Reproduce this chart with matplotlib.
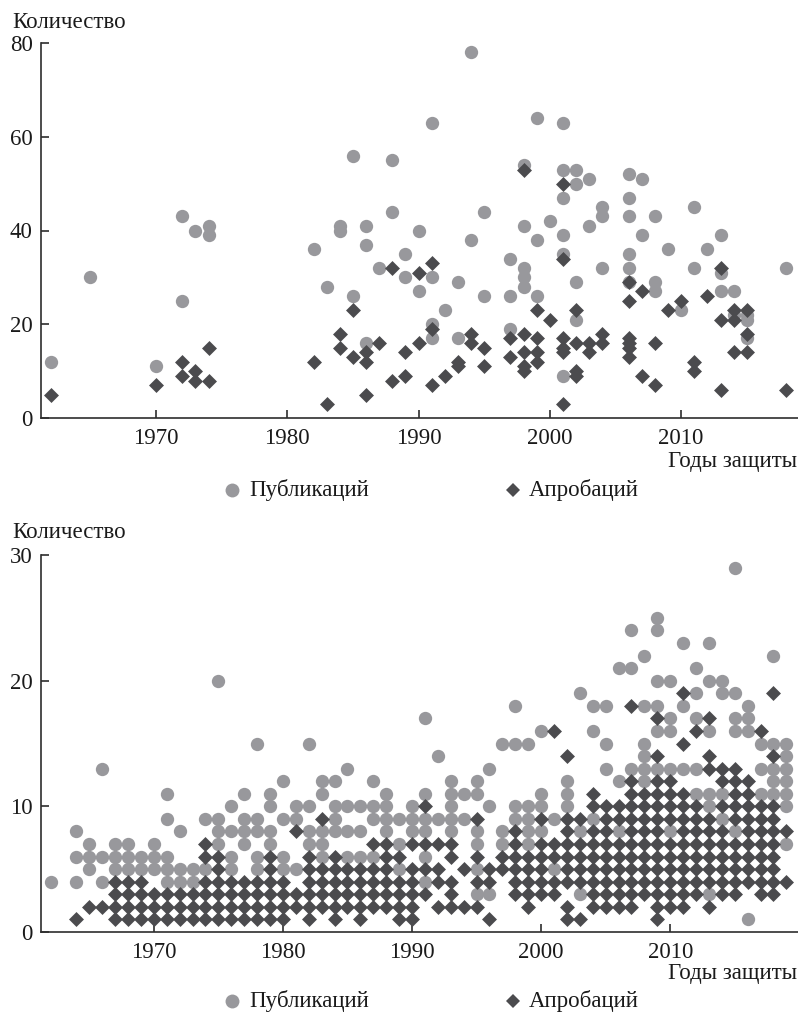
import matplotlib
matplotlib.use("Agg")
import matplotlib.pyplot as plt
from matplotlib.lines import Line2D

# ---------------- data (top panel) ----------------
top_pub = {
    1962: [12], 1965: [30], 1970: [11], 1972: [43, 25], 1973: [40], 1974: [41, 39],
    1982: [36], 1983: [28], 1984: [41, 40], 1985: [56, 26], 1986: [41, 37, 16],
    1987: [32], 1988: [55, 44], 1989: [35, 30], 1990: [40, 27], 1991: [63, 30, 20, 17],
    1992: [23], 1993: [29, 17], 1994: [78, 38], 1995: [44, 26], 1997: [34, 26, 19],
    1998: [54, 41, 32, 30, 28], 1999: [64, 38, 26], 2000: [42],
    2001: [63, 53, 47, 39, 35, 9], 2002: [53, 50, 29, 21], 2003: [51, 41],
    2004: [45, 43, 32], 2006: [52, 47, 43, 35, 32, 29], 2007: [51, 39],
    2008: [43, 29, 27], 2009: [36], 2010: [23], 2011: [45, 32], 2012: [36],
    2013: [39, 31, 27], 2014: [27, 22], 2015: [22, 21, 17], 2018: [32],
}
top_apr = {
    1962: [5], 1970: [7], 1972: [12, 9], 1973: [10, 8], 1974: [15, 8],
    1982: [12], 1983: [3], 1984: [18, 15], 1985: [23, 13], 1986: [14, 12, 5],
    1987: [16], 1988: [32, 8], 1989: [14, 9], 1990: [31, 16], 1991: [33, 19, 7],
    1992: [9], 1993: [12, 11], 1994: [18, 16], 1995: [15, 11], 1997: [17, 13],
    1998: [53, 18, 14, 11, 10], 1999: [23, 17, 14, 12], 2000: [21],
    2001: [50, 34, 17, 15, 14, 3], 2002: [23, 16, 10, 9], 2003: [16, 14],
    2004: [18, 16], 2006: [29, 25, 17, 16, 15, 13], 2007: [27, 9], 2008: [16, 7],
    2009: [23], 2010: [25], 2011: [12, 10], 2012: [26], 2013: [32, 21, 6],
    2014: [23, 21, 14], 2015: [23, 18, 14], 2018: [6],
}

# ---------------- data (bottom panel) ----------------
bottom_pub = {
    1962: [4], 1964: [8, 6, 4], 1965: [7, 6, 5], 1966: [13, 6, 4], 1967: [7, 6, 5],
    1968: [7, 6, 5], 1969: [6, 5], 1970: [7, 6, 5], 1971: [11, 9, 6, 5, 4],
    1972: [8, 5, 4], 1973: [5, 4], 1974: [9, 5], 1975: [20, 9, 8, 7],
    1976: [10, 8, 6, 5], 1977: [11, 9, 8, 7], 1978: [15, 9, 8, 6, 5],
    1979: [11, 10, 8, 7], 1980: [12, 9, 6, 5], 1981: [10, 9, 5], 1982: [15, 10, 8, 7],
    1983: [12, 11, 8, 7, 6], 1984: [12, 10, 9, 8], 1985: [13, 10, 8, 6],
    1986: [10, 8, 6], 1987: [12, 10, 9, 6], 1988: [11, 10, 9, 8], 1989: [9, 7, 5],
    1990: [10, 9, 8], 1991: [17, 11, 9, 8, 6, 4], 1992: [14, 9],
    1993: [12, 11, 10, 9, 8], 1994: [11, 9], 1995: [12, 11, 8, 7, 5, 3],
    1996: [13, 10, 3], 1997: [15, 8, 7], 1998: [18, 15, 10, 9],
    1999: [15, 10, 9, 8, 7], 2000: [16, 11, 10, 8], 2001: [9, 5], 2002: [12, 11, 10],
    2003: [19, 8, 3], 2004: [18, 16, 9], 2005: [18, 15, 13], 2006: [21, 12, 8],
    2007: [24, 21, 13], 2008: [22, 18, 15, 14, 13, 12], 2009: [25, 24, 20, 18, 16, 13],
    2010: [20, 17, 16, 13, 8], 2011: [23, 18, 13], 2012: [21, 19, 17, 13, 11],
    2013: [23, 20, 16, 11, 10, 3], 2014: [20, 19, 11, 9], 2015: [29, 19, 17, 16, 8],
    2016: [18, 17, 16, 1], 2017: [15, 13, 11], 2018: [22, 15, 13, 12, 11],
    2019: [15, 14, 13, 12, 11, 10, 7],
}
bottom_apr = {
    1964: [1], 1965: [2], 1966: [2], 1967: [4, 3, 2, 1], 1968: [4, 3, 2, 1],
    1969: [4, 3, 2, 1], 1970: [3, 2, 1], 1971: [3, 2, 1], 1972: [3, 2, 1],
    1973: [3, 2, 1], 1974: [7, 6, 4, 3, 2, 1], 1975: [6, 5, 4, 3, 2, 1],
    1976: [4, 3, 2, 1], 1977: [4, 3, 2, 1], 1978: [4, 3, 2, 1],
    1979: [6, 5, 4, 3, 2, 1], 1980: [4, 3, 2, 1], 1981: [8, 3, 2],
    1982: [6, 5, 4, 3, 2, 1], 1983: [9, 5, 4, 3, 2], 1984: [6, 5, 4, 3, 2, 1],
    1985: [5, 4, 3, 2], 1986: [5, 4, 3, 2, 1], 1987: [7, 5, 4, 3, 2],
    1988: [7, 6, 5, 4, 3, 2], 1989: [6, 4, 3, 2, 1], 1990: [7, 5, 4, 3, 2, 1],
    1991: [10, 7, 5, 3], 1992: [7, 5, 4, 2], 1993: [7, 6, 4, 3, 2], 1994: [5, 2],
    1995: [9, 6, 4, 2], 1996: [5, 4, 1], 1997: [6, 5], 1998: [8, 7, 6, 5, 4, 3],
    1999: [6, 5, 4, 3, 2], 2000: [9, 7, 6, 5, 4, 3], 2001: [16, 7, 6, 4, 3],
    2002: [14, 9, 8, 7, 6, 5, 4, 2, 1], 2003: [9, 7, 6, 5, 4, 1],
    2004: [11, 10, 8, 7, 6, 5, 4, 3, 2], 2005: [10, 9, 8, 7, 6, 5, 4, 3, 2],
    2006: [10, 9, 7, 6, 5, 4, 3, 2], 2007: [18, 12, 11, 10, 9, 8, 7, 6, 5, 4, 3, 2],
    2008: [11, 10, 9, 8, 7, 6, 5, 4, 3],
    2009: [17, 14, 12, 11, 10, 9, 8, 7, 6, 5, 4, 3, 2, 1],
    2010: [12, 11, 10, 9, 7, 6, 5, 4, 3, 2],
    2011: [19, 15, 11, 10, 9, 8, 7, 6, 5, 4, 3, 2],
    2012: [16, 10, 9, 8, 7, 6, 5, 4, 3], 2013: [17, 14, 13, 9, 8, 7, 6, 5, 4, 2],
    2014: [13, 12, 10, 8, 7, 6, 5, 4, 3], 2015: [13, 12, 11, 10, 9, 7, 6, 5, 4, 3],
    2016: [12, 11, 10, 9, 8, 7, 6, 5, 4], 2017: [16, 10, 9, 8, 7, 6, 5, 4, 3],
    2018: [19, 14, 10, 9, 8, 7, 6, 5, 4, 3], 2019: [8, 4],
}

x_ticks = [1970, 1980, 1990, 2000, 2010]
top_y_ticks = [0, 20, 40, 60, 80]
bottom_y_ticks = [0, 10, 20, 30]
y_label = "Количество"
x_label = "Годы защиты"
legend_labels = ["Публикаций", "Апробаций"]

# ---------------- style ----------------
W, H = 798, 1014
PUB_COLOR = "#98989c"
APR_COLOR = "#4b4b4e"
AX_COLOR = "#2e2e2e"
FONT = "Liberation Serif"
FS = 16.5

plt.rcParams["font.family"] = [FONT, "DejaVu Serif"]

fig = plt.figure(figsize=(W / 100, H / 100), dpi=100)


def flatten(d):
    xs, ys = [], []
    for yr, vals in d.items():
        for v in vals:
            xs.append(yr)
            ys.append(v)
    return xs, ys


def setup(ax, xlim, ylim, yticks):
    ax.set_xlim(*xlim)
    ax.set_ylim(*ylim)
    ax.set_xticks(x_ticks)
    ax.set_yticks(yticks)
    for s in ("top", "right"):
        ax.spines[s].set_visible(False)
    for s in ("left", "bottom"):
        ax.spines[s].set_color(AX_COLOR)
        ax.spines[s].set_linewidth(1.2)
    ax.tick_params(direction="in", length=5.5, width=1.2, color=AX_COLOR,
                   labelsize=FS, labelcolor="#1a1a1a", pad=6)
    ax.tick_params(axis="x", pad=7)


panels = [
    (top_pub, top_apr, [41 / W, 1 - 418 / H, 757 / W, 375 / H], (1961.24, 2018.9), (0, 80),
     top_y_ticks),
    (bottom_pub, bottom_apr, [41 / W, 1 - 932 / H, 757 / W, 377 / H], (1961.26, 2019.9),
     (0, 30), bottom_y_ticks),
]

ylabel_y = [28, 538]
xlabel_y = [461, 973]
legend_y = [490, 1001]

for i, (pub, apr, rect, xlim, ylim, yticks) in enumerate(panels):
    ax = fig.add_axes(rect)
    px, py = flatten(pub)
    axx, axy = flatten(apr)
    ax.scatter(px, py, s=92, marker="o", color=PUB_COLOR, linewidths=0, zorder=2,
               clip_on=False)
    ax.scatter(axx, axy, s=58, marker="D", color=APR_COLOR, linewidths=0, zorder=3,
               clip_on=False)
    setup(ax, xlim, ylim, yticks)

    fig.text(12 / W, 1 - ylabel_y[i] / H, y_label, fontsize=FS, color="#1a1a1a",
             ha="left", va="baseline")
    fig.text(797 / W, 1 - xlabel_y[i] / H, x_label, fontsize=FS, color="#1a1a1a",
             ha="right", va="center")

    ly = 1 - legend_y[i] / H
    fig.add_artist(Line2D([232 / W], [ly], marker="o", markersize=10, color=PUB_COLOR,
                          markeredgewidth=0, linestyle="none", transform=fig.transFigure))
    fig.text(249 / W, ly, legend_labels[0], fontsize=FS, color="#1a1a1a",
             ha="left", va="center")
    fig.add_artist(Line2D([513 / W], [ly], marker="D", markersize=7.5, color=APR_COLOR,
                          markeredgewidth=0, linestyle="none", transform=fig.transFigure))
    fig.text(529 / W, ly, legend_labels[1], fontsize=FS, color="#1a1a1a",
             ha="left", va="center")

fig.savefig("out.png", dpi=100, facecolor="white")
